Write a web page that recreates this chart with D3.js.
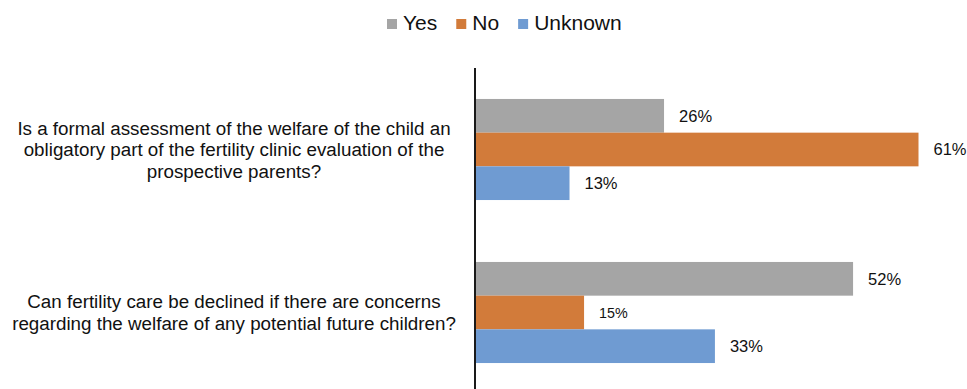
<!DOCTYPE html>
<html>
<head>
<meta charset="utf-8">
<script src="https://cdn.jsdelivr.net/npm/d3@7"></script>
<style>
  html, body { margin: 0; padding: 0; background: #fff; }
  svg { display: block; font-family: "Liberation Sans", Arial, Helvetica, sans-serif; }
</style>
</head>
<body>
<svg id="chart" width="967" height="389"></svg>
<script>
// Survey questions (categories)
const questions = [
  "Is a formal assessment of the welfare of the child an obligatory part of the fertility clinic evaluation of the prospective parents?",
  "Can fertility care be declined if there are concerns regarding the welfare of any potential future children?"
];
// Answer series
const seriesNames = ["Yes", "No", "Unknown"];
const seriesColors = ["#A5A5A5", "#D27B3A", "#6F9BD2"];
// Percentages per question, in series order
const yesValues = [26, 52];
const noValues = [61, 15];
const unknownValues = [13, 33];

const seriesValues = [yesValues, noValues, unknownValues];

const svg = d3.select("#chart");

const x = d3.scaleLinear()
  .domain([0, d3.max(seriesValues.flat())])
  .range([475, 918.5]);

const y0 = d3.scaleBand()
  .domain(questions)
  .range([68, 394])
  .padding(0);

const bw = y0.bandwidth();
const y1 = d3.scaleBand()
  .domain(seriesNames)
  .range([bw * 0.19, bw * 0.81])
  .padding(0);

const color = d3.scaleOrdinal().domain(seriesNames).range(seriesColors);

// Rows of data: one per question/series pair
const rows = [];
questions.forEach((q, qi) => {
  seriesNames.forEach((s, si) => {
    rows.push({ question: q, series: s, value: seriesValues[si][qi] });
  });
});

const groups = svg.selectAll("g.group")
  .data(questions)
  .join("g")
  .attr("class", "group")
  .attr("transform", d => `translate(0,${y0(d)})`);

groups.selectAll("rect")
  .data(q => rows.filter(r => r.question === q))
  .join("rect")
  .attr("x", x(0))
  .attr("y", d => y1(d.series))
  .attr("width", d => x(d.value) - x(0))
  .attr("height", y1.bandwidth())
  .attr("fill", d => color(d.series));

// Value labels at the end of each bar
groups.selectAll("text.value")
  .data(q => rows.filter(r => r.question === q))
  .join("text")
  .attr("class", "value")
  .attr("x", d => x(d.value) + 15)
  .attr("y", d => y1(d.series) + y1.bandwidth() / 2)
  .attr("dy", "0.36em")
  .attr("font-size", d => d.value === 15 ? 14.3 : 16.5)
  .attr("fill", "#111")
  .text(d => d.value + "%");

// Vertical category axis line
svg.append("line")
  .attr("x1", x(0)).attr("x2", x(0))
  .attr("y1", y0.range()[0]).attr("y2", y0.range()[1])
  .attr("stroke", "#1a1a1a")
  .attr("stroke-width", 2);

// Wrapped, centred question labels
const labelCenterX = 234;
const lineHeight = 21.7;
const maxLabelWidth = 470;

groups.each(function(q) {
  const g = d3.select(this);
  const t = g.append("text")
    .attr("text-anchor", "middle")
    .attr("font-size", 18.8)
    .attr("fill", "#111");
  const words = q.split(" ");
  const lines = [];
  let line = [];
  const probe = t.append("tspan");
  words.forEach(w => {
    line.push(w);
    probe.text(line.join(" "));
    if (probe.node().getComputedTextLength() > maxLabelWidth && line.length > 1) {
      line.pop();
      lines.push(line.join(" "));
      line = [w];
    }
  });
  lines.push(line.join(" "));
  probe.remove();
  const mid = bw / 2;
  const first = mid - (lines.length - 1) * lineHeight / 2;
  lines.forEach((l, i) => {
    t.append("tspan")
      .attr("x", labelCenterX)
      .attr("y", first + i * lineHeight)
      .attr("dy", "0.36em")
      .text(l);
  });
});

// Legend across the top
const legend = svg.append("g").attr("class", "legend");
let lx = 387;
seriesNames.forEach(s => {
  legend.append("rect")
    .attr("x", lx).attr("y", 19)
    .attr("width", 10).attr("height", 10)
    .attr("fill", color(s));
  const txt = legend.append("text")
    .attr("x", lx + 16)
    .attr("y", 30)
    .attr("font-size", 21)
    .attr("fill", "#111")
    .text(s);
  lx = lx + 16 + txt.node().getComputedTextLength() + 19;
});
</script>
</body>
</html>
